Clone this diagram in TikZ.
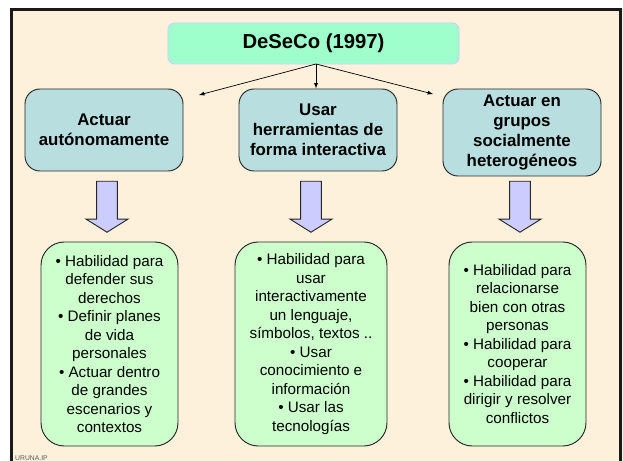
\documentclass[tikz,border=0pt]{standalone}
\usepackage{fontspec}
\setmainfont{Liberation Sans}
\usetikzlibrary{shapes.arrows}
\definecolor{fondo}{HTML}{FDF1DB}
\definecolor{titulo}{HTML}{9FFFCC}
\definecolor{lila}{HTML}{CCCCFF}
\definecolor{grupo}{HTML}{B8DEE0}
\definecolor{lista}{HTML}{CCFFCC}
\tikzset{
  titlebox/.style={draw=lila,fill=titulo,rectangle,rounded corners=.2cm,line width=.8pt,
    minimum width=8.73cm,minimum height=1.23cm,font=\fontsize{17.3}{20}\selectfont\bfseries},
  groupbox/.style={draw=black!85,fill=grupo,rectangle,rounded corners=.45cm,line width=.8pt,
    minimum width=4.74cm,align=center,font=\fontsize{14.4}{17}\selectfont\bfseries},
  listbox/.style={draw=black!85,fill=lista,rectangle,rounded corners=.7cm,line width=.8pt,
    minimum height=6.12cm,align=center,inner sep=0pt,font=\fontsize{13}{15.8}\selectfont},
  downarrow/.style={draw=black!85,fill=lila,single arrow,shape border rotate=270,line width=.8pt,
    inner sep=.29cm,minimum width=1.26cm,minimum height=1.53cm,
    single arrow head extend=.315cm,single arrow tip angle=116},
  link/.style={line width=.6pt,-latex}
}
\begin{document}
\begin{tikzpicture}[x=.03cm,y=-.03cm]
\useasboundingbox (0,0) rectangle (623,461);
\fill [fondo] (11,9) rectangle (623,461);
\draw [line width=.09cm,black!90] (11.5,470) -- (11.5,9.5) -- (620,9.5) -- (620,470);

\node [titlebox] (top) at(313.5,43.5){DeSeCo (1997)};
\node [groupbox,minimum height=2.46cm] (act) at(104,130){Actuar\\autónomamente};
\node [groupbox,minimum height=2.46cm] (usar) at(318,130){Usar\\herramientas de\\forma interactiva};
\node [groupbox,minimum height=2.61cm] (grupos) at(522,132.5){Actuar en\\grupos\\socialmente\\heterogéneos};

\coordinate (out) at(316,64);
\coordinate (actin) at(199,95);
\coordinate (gruposin) at(433,94);
\draw[link](out) -- (actin);
\draw[link](out) -- (out |- usar.north);
\draw[link](out) -- (gruposin);

\node [downarrow] (a1) at(107,203.5){};
\node [downarrow] (a2) at(311,203.5){};
\node [downarrow] (a3) at(520,203.5){};

\node [listbox,minimum width=4.11cm] (l1) at(109.5,344){• Habilidad para\\defender sus\\derechos\\• Definir planes\\de vida\\personales\\• Actuar dentro\\de grandes\\escenarios y\\contextos};
\node [listbox,minimum width=4.56cm] (l2) at(311,344){• Habilidad para\\usar\\interactivamente\\un lenguaje,\\símbolos, textos ..\\• Usar\\conocimiento e\\información\\• Usar las\\tecnologías};
\node [listbox,minimum width=4.11cm] (l3) at(517.5,344){• Habilidad para\\relacionarse\\bien con otras\\personas\\• Habilidad para\\cooperar\\• Habilidad para\\dirigir y resolver\\conflictos};

\node [text=black!65,font=\fontsize{5.8}{6}\selectfont,inner sep=0pt,anchor=west] (pie) at(15,458.5){URUNA.IP};
\end{tikzpicture}
\end{document}
